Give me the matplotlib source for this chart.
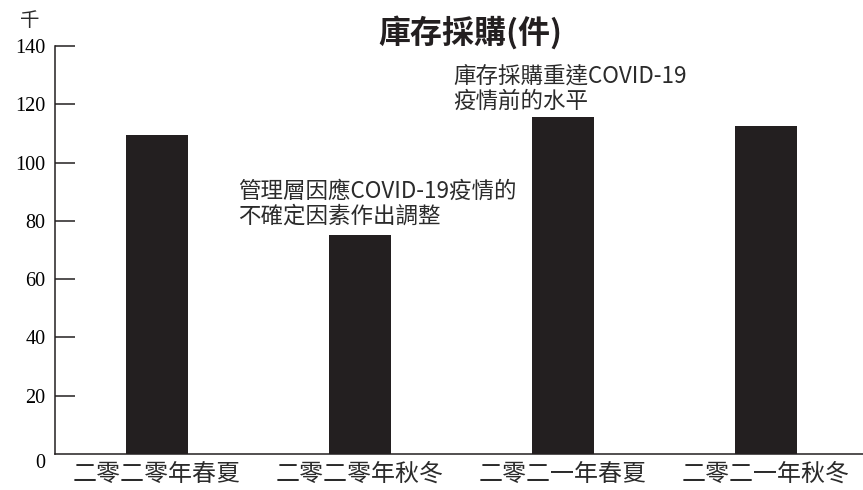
import numpy as np
import matplotlib.pyplot as plt

plt.rcParams['font.family'] = ['Noto Sans CJK TC', 'DejaVu Sans']

# data
periods = ['二零二零年春夏', '二零二零年秋冬', '二零二一年春夏', '二零二一年秋冬']
purchases = [109.6, 75.2, 115.5, 112.4]   # thousand pieces
yticks = [0, 20, 40, 60, 80, 100, 120, 140]
notes = {1: '管理層因應COVID-19疫情的\n不確定因素作出調整',
         2: '庫存採購重達COVID-19\n疫情前的水平'}

fig = plt.figure(figsize=(8.63, 4.9), dpi=100)
ax = fig.add_axes([55 / 863, 36 / 490, 1 - 55 / 863, 408 / 490])

x = np.arange(len(periods))
ax.bar(x, purchases, width=0.305, color='#231f20')

ax.set_xlim(-0.502, 3.478)
ax.set_ylim(0, 140)
ax.spines['top'].set_visible(False)
ax.spines['right'].set_visible(False)
for s in ['left', 'bottom']:
    ax.spines[s].set_linewidth(1.1)
    ax.spines[s].set_color('#231f20')

ax.set_yticks(yticks)
ax.set_yticklabels([str(v) for v in yticks], family='Liberation Serif', fontsize=14.5)
ax.tick_params(axis='y', direction='in', length=14.4, width=1.1, pad=7, color='#231f20')
ax.get_yticklabels()[0].set_va('top')
ax.get_yticklines()[0].set_visible(False)

ax.set_xticks(x)
ax.set_xticklabels(periods, fontsize=17.3, color='#2b2b2b')
ax.tick_params(axis='x', length=0, pad=5)

# annotations
offsets = {1: (-0.60, 2.5), 2: (-0.54, 1.5)}
for i, txt in notes.items():
    dx, dy = offsets[i]
    ax.text(x[i] + dx, purchases[i] + dy, txt, fontsize=16.2, color='#2b2b2b',
            ha='left', va='bottom', linespacing=1.12)

fig.text(470 / 863, 1 - 33 / 490, '庫存採購(件)', fontsize=23, fontweight='bold',
         ha='center', va='center', color='#231f20')
fig.text(30 / 863, 1 - 21 / 490, '千', fontsize=14, ha='center', va='center',
         color='#2b2b2b')

fig.savefig('out.png', dpi=100)
